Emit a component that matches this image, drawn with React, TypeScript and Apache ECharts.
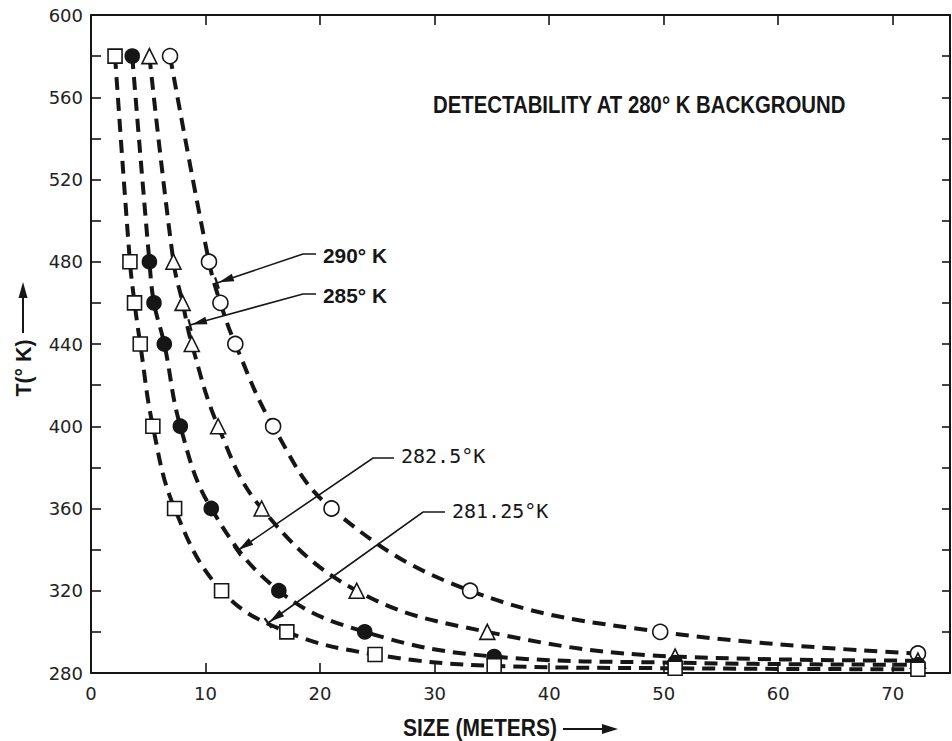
import React, { useEffect, useRef } from "react";
import * as echarts from "echarts";

// ---- data ----
const title = "DETECTABILITY AT 280° K BACKGROUND";
const xName = "SIZE (METERS)";
const yName = "T(° K)";

// 290°K curve (open circles)
const size290 = [6.9, 10.3, 11.3, 12.6, 15.9, 21.0, 33.1, 49.7, 72.2];
const temp290 = [580, 480, 460, 440, 400, 360, 320, 300, 289.5];
// 285°K curve (open triangles)
const size285 = [5.1, 7.2, 8.0, 8.8, 11.1, 14.9, 23.2, 34.6, 51.0, 72.2];
const temp285 = [580, 480, 460, 440, 400, 360, 320, 300, 288, 286];
// 282.5°K curve (filled circles)
const size2825 = [3.6, 5.1, 5.5, 6.4, 7.8, 10.5, 16.4, 23.9, 35.2, 51.0, 72.2];
const temp2825 = [580, 480, 460, 440, 400, 360, 320, 300, 288, 285, 284];
// 281.25°K curve (open squares)
const size28125 = [2.1, 3.4, 3.8, 4.3, 5.4, 7.3, 11.4, 17.1, 24.8, 35.2, 51.0, 72.2];
const temp28125 = [580, 480, 460, 440, 400, 360, 320, 300, 289, 283.5, 282.3, 281.8];

const curveLabels = ["290° K", "285° K", "282.5°K", "281.25°K"];

const SANS = "'Liberation Sans', Arial, sans-serif";
const MONO = "'DejaVu Sans Mono', 'Liberation Mono', monospace";
const INK = "#161616";

function zip(xs: number[], ys: number[]) {
  return xs.map((x, i) => [x, ys[i]]);
}

let measureCtx: CanvasRenderingContext2D | null = null;
function fitScale(text: string, font: string, target: number) {
  if (!measureCtx) measureCtx = document.createElement("canvas").getContext("2d");
  if (!measureCtx) return 1;
  measureCtx.font = font;
  const w = measureCtx.measureText(text).width;
  return w > 0 ? target / w : 1;
}

function fittedText(text: string, size: number, x: number, y: number, width: number, extra: any = {}) {
  const font = `bold ${size}px ${SANS}`;
  return {
    type: "text",
    x,
    y,
    scaleX: fitScale(text, font, width),
    style: { text, font, fill: INK, verticalAlign: "middle", align: "left" },
    ...extra,
  };
}

function arrowParts(points: number[][], key: string) {
  const from = points[points.length - 2];
  const tip = points[points.length - 1];
  const dx = tip[0] - from[0];
  const dy = tip[1] - from[1];
  const L = Math.hypot(dx, dy);
  const ux = dx / L, uy = dy / L;
  const px = -uy, py = ux;
  const len = 17, half = 4;
  const bx = tip[0] - ux * len, by = tip[1] - uy * len;
  const bar = 6;
  return [
    {
      type: "polyline", id: key + "-l",
      shape: { points },
      style: { stroke: INK, lineWidth: 1.6, fill: null },
    },
    {
      type: "polygon", id: key + "-h",
      shape: { points: [[tip[0] - ux * 2, tip[1] - uy * 2], [bx + px * half, by + py * half], [bx - px * half, by - py * half]] },
      style: { fill: INK },
    },
    {
      type: "line", id: key + "-b",
      shape: { x1: tip[0] + px * bar, y1: tip[1] + py * bar, x2: tip[0] - px * bar, y2: tip[1] - py * bar },
      style: { stroke: INK, lineWidth: 2.2 },
    },
  ];
}

export default function App() {
  const ref = useRef<HTMLDivElement>(null);

  useEffect(() => {
    if (!ref.current) return;
    const chart = echarts.init(ref.current, null, { renderer: "svg" });

    const lineStyle = { color: INK, width: 4, type: [13, 8] as any, cap: "butt" as any };
    const mk = (name: string, data: number[][], symbol: string, size: number, filled: boolean) => ({
      name,
      type: "line",
      data,
      smooth: 0.4,
      symbol,
      symbolSize: size,
      showAllSymbol: true,
      lineStyle,
      itemStyle: { color: filled ? INK : "#fff", borderColor: INK, borderWidth: 1.6 },
      emphasis: { disabled: true },
      z: 3,
    });

    const gfx: any[] = [];
    gfx.push(...arrowParts([[316, 254], [303, 254], [217, 283]], "a290"));
    gfx.push(...arrowParts([[316, 294], [303, 294], [190, 325]], "a285"));
    gfx.push(...arrowParts([[394, 458], [373, 458], [237, 551]], "a2825"));
    gfx.push(...arrowParts([[445, 512], [423, 512], [268, 623]], "a28125"));
    gfx.push(
      fittedText(curveLabels[0], 21, 323, 255, 64),
      fittedText(curveLabels[1], 21, 323, 295, 64),
      { type: "text", left: 401, top: 446, style: { text: curveLabels[2], font: `20px ${MONO}`, fill: INK } },
      { type: "text", left: 452, top: 501, style: { text: curveLabels[3], font: `20px ${MONO}`, fill: INK } },
      fittedText(title, 24, 433, 105, 414),
      fittedText(xName, 23, 403, 728, 154),
      { type: "line", shape: { x1: 563, y1: 729, x2: 604, y2: 729 }, style: { stroke: INK, lineWidth: 2 } },
      { type: "polygon", shape: { points: [[618, 729], [602, 724], [602, 734]] }, style: { fill: INK } },
      {
        type: "text", x: 23, y: 368, rotation: Math.PI / 2,
        scaleX: fitScale(yName, `bold 22px ${SANS}`, 57),
        style: { text: yName, font: `bold 22px ${SANS}`, fill: INK, align: "center", verticalAlign: "middle" },
      },
      { type: "line", shape: { x1: 23, y1: 333, x2: 23, y2: 296 }, style: { stroke: INK, lineWidth: 2 } },
      { type: "polygon", shape: { points: [[23, 282], [18.5, 298], [27.5, 298]] }, style: { fill: INK } },
    );

    const tickFont = { color: "#222", fontSize: 18, fontFamily: "'DejaVu Sans', sans-serif" };

    chart.setOption({
      animation: false,
      backgroundColor: "#fff",
      grid: { left: 91, right: 2, top: 15, bottom: 68, containLabel: false },
      xAxis: [
        {
          type: "value", min: 0, max: 75, interval: 10, position: "bottom",
          axisLine: { show: true, onZero: false, lineStyle: { color: INK, width: 2 } },
          axisTick: { show: true, inside: true, length: 10, lineStyle: { color: INK, width: 1.6 } },
          axisLabel: { ...tickFont, margin: 11, formatter: (v: number) => (v % 10 === 0 ? String(v) : ""), showMaxLabel: false },
          splitLine: { show: false },
        },
        {
          type: "value", min: 0, max: 75, interval: 10, position: "top",
          axisLine: { show: true, onZero: false, lineStyle: { color: INK, width: 2 } },
          axisTick: { show: true, inside: true, length: 10, lineStyle: { color: INK, width: 1.6 } },
          axisLabel: { show: false },
          splitLine: { show: false },
        },
      ],
      yAxis: [
        {
          type: "value", min: 280, max: 600, interval: 20, position: "left",
          axisLine: { show: true, onZero: false, lineStyle: { color: INK, width: 2 } },
          axisTick: { show: true, inside: true, length: 10, lineStyle: { color: INK, width: 1.6 } },
          axisLabel: { ...tickFont, margin: 8, formatter: (v: number) => (v % 40 === 0 ? String(v) : "") },
          splitLine: { show: false },
        },
        {
          type: "value", min: 280, max: 600, interval: 20, position: "right",
          axisLine: { show: true, onZero: false, lineStyle: { color: INK, width: 2 } },
          axisTick: { show: true, inside: true, length: 8, lineStyle: { color: INK, width: 1.6 } },
          axisLabel: { show: false },
          splitLine: { show: false },
        },
      ],
      series: [
        mk("290", zip(size290, temp290), "circle", 15, false),
        mk("285", zip(size285, temp285), "triangle", 15, false),
        mk("282.5", zip(size2825, temp2825), "circle", 14, true),
        mk("281.25", zip(size28125, temp28125), "rect", 14, false),
      ],
      graphic: gfx,
    });

    return () => chart.dispose();
  }, []);

  return (
    <div
      ref={ref}
      style={{ position: "fixed", left: 0, top: 0, width: 952, height: 741, background: "#fff" }}
    />
  );
}
